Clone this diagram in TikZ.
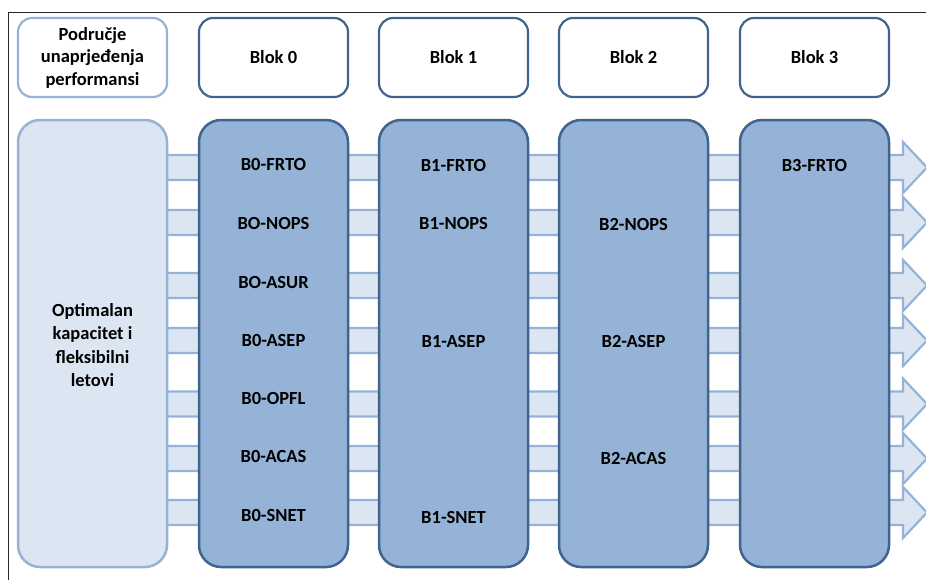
\documentclass[tikz,border=0pt]{standalone}
\usepackage{fontspec}
\setmainfont{Carlito}
\definecolor{lightfill}{HTML}{DCE6F2}
\definecolor{lightedge}{HTML}{95B3D7}
\definecolor{colfill}{HTML}{95B3D7}
\definecolor{coledge}{HTML}{41648F}
\begin{document}
\begin{tikzpicture}[x=1pt,y=-1pt,
  txt/.style={font=\fontsize{18.5}{22.5}\selectfont\bfseries, text=black},
  hdr/.style={txt, draw=coledge, line width=2.2pt, fill=white, rounded corners=14pt,
    minimum width=149pt, minimum height=79pt, inner sep=0pt, align=center},
  hdrlight/.style={hdr, draw=lightedge},
  col/.style={draw=coledge, fill=colfill, line width=2.5pt, rounded corners=22pt,
    minimum width=149pt, minimum height=447pt, inner sep=0pt},
  collight/.style={col, draw=lightedge, fill=lightfill},
  lbl/.style={txt, inner sep=0pt, anchor=center},
  band/.style={draw=lightedge, fill=lightfill, line width=2.2pt, line join=miter},
  frame/.style={draw=black!85, line width=1.6pt}
]
\useasboundingbox (0,0) rectangle (926,579);
% frame
\coordinate (fTL) at (8.5,12.5);
\coordinate (fTR) at (930,12.5);
\coordinate (fBL) at (8.5,582);
\draw[frame] (fBL) -- (fTL) -- (fTR);
% block arrows (behind the columns)
\foreach \c [count=\i] in {167.5,222.5,285.5,340.5,404,458.5,512.5}{
  \coordinate (a\i s) at (150,\c);
  \coordinate (a\i e) at (927,\c);
  \draw[band] (150,\c-12.5) -- (903,\c-12.5) -- (903,\c-25.5) -- (a\i e)
     -- (903,\c+25.5) -- (903,\c+12.5) -- (150,\c+12.5) -- cycle;
}
% header row
\node[hdrlight] (hp) at (92.5,57.5) {Područje\\unaprjeđenja\\performansi};
\node[hdr] (h0) at (273.5,57.5) {Blok 0};
\node[hdr] (h1) at (453.5,57.5) {Blok 1};
\node[hdr] (h2) at (633.5,57.5) {Blok 2};
\node[hdr] (h3) at (814.5,57.5) {Blok 3};
% columns
\node[collight] (cp) at (92.5,343.5) {};
\node[col] (c0) at (273.5,343.5) {};
\node[col] (c1) at (453.5,343.5) {};
\node[col] (c2) at (633.5,343.5) {};
\node[col] (c3) at (814.5,343.5) {};
% left column text
\node[lbl, align=center, font=\fontsize{18.5}{23.3}\selectfont\bfseries] (opt) at (92.5,345) {Optimalan\\kapacitet i\\fleksibilni\\letovi};
% block 0
\node[lbl] (b0a) at (273.5,164) {B0-FRTO};
\node[lbl] (b0b) at (273.5,223) {BO-NOPS};
\node[lbl] (b0c) at (273.5,282) {BO-ASUR};
\node[lbl] (b0d) at (273.5,340) {B0-ASEP};
\node[lbl] (b0e) at (273.5,398) {B0-OPFL};
\node[lbl] (b0f) at (273.5,456) {B0-ACAS};
\node[lbl] (b0g) at (273.5,515) {B0-SNET};
% block 1
\node[lbl] (b1a) at (453.5,165) {B1-FRTO};
\node[lbl] (b1b) at (453.5,223) {B1-NOPS};
\node[lbl] (b1d) at (453.5,341) {B1-ASEP};
\node[lbl] (b1g) at (453.5,517) {B1-SNET};
% block 2
\node[lbl] (b2b) at (633.5,224) {B2-NOPS};
\node[lbl] (b2d) at (633.5,341) {B2-ASEP};
\node[lbl] (b2f) at (633.5,458) {B2-ACAS};
% block 3
\node[lbl] (b3a) at (814.5,165.5) {B3-FRTO};
\end{tikzpicture}
\end{document}
